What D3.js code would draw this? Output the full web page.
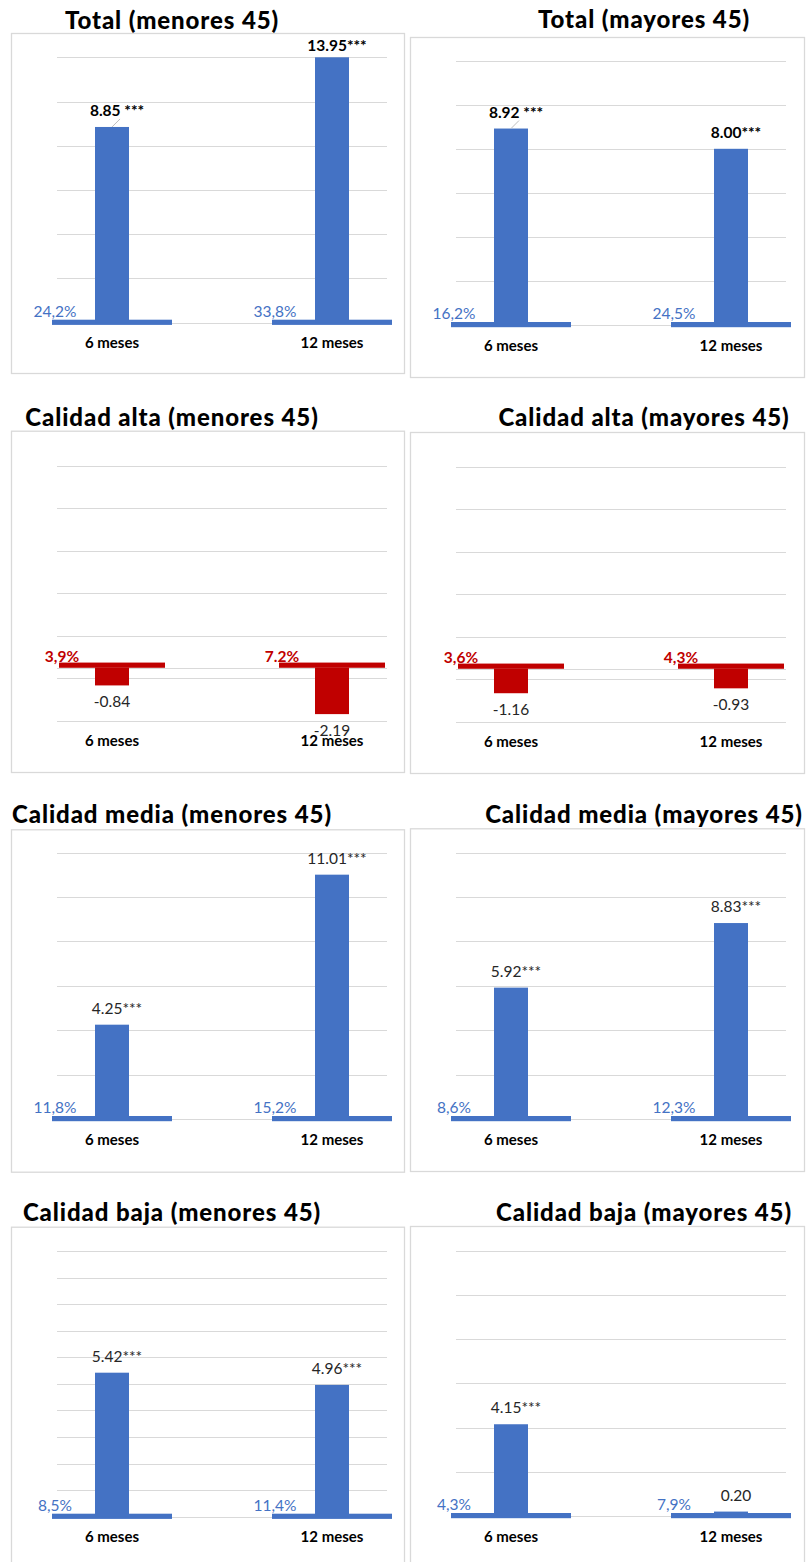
<!DOCTYPE html>
<html>
<head>
<meta charset="utf-8">
<script src="https://cdn.jsdelivr.net/npm/d3@7"></script>
<style>
  html, body { margin: 0; padding: 0; background: #ffffff; }
  svg { display: block; }
</style>
</head>
<body>
<script>
// Categories shared by every panel
const categories = ["6 meses", "12 meses"];

const panelTitles = [
  "Total (menores 45)", "Total (mayores 45)",
  "Calidad alta (menores 45)", "Calidad alta (mayores 45)",
  "Calidad media (menores 45)", "Calidad media (mayores 45)",
  "Calidad baja (menores 45)", "Calidad baja (mayores 45)"
];

// Estimated effects (bars) per panel
const totalMenores = [8.85, 13.95];
const totalMayores = [8.92, 8.00];
const altaMenores  = [-0.84, -2.19];
const altaMayores  = [-1.16, -0.93];
const mediaMenores = [4.25, 11.01];
const mediaMayores = [5.92, 8.83];
const bajaMenores  = [5.42, 4.96];
const bajaMayores  = [4.15, 0.20];

// Significance marks appended to each value label
const starsTotalMenores = [" ***", "***"];
const starsTotalMayores = [" ***", "***"];
const starsAltaMenores  = ["", ""];
const starsAltaMayores  = ["", ""];
const starsMediaMenores = ["***", "***"];
const starsMediaMayores = ["***", "***"];
const starsBajaMenores  = ["***", "***"];
const starsBajaMayores  = ["***", ""];

// Baseline rates shown beside the base strip
const baseTotalMenores = ["24,2%", "33,8%"];
const baseTotalMayores = ["16,2%", "24,5%"];
const baseAltaMenores  = ["3,9%", "7.2%"];
const baseAltaMayores  = ["3,6%", "4,3%"];
const baseMediaMenores = ["11,8%", "15,2%"];
const baseMediaMayores = ["8,6%", "12,3%"];
const baseBajaMenores  = ["8,5%", "11,4%"];
const baseBajaMayores  = ["4,3%", "7,9%"];

// Value-axis ranges and gridline steps
const axisStandard = [0, 12];
const axisAlta = [-2.5, 9.5];
const axisBajaMenores = [0, 10];

const panels = [
  { title: panelTitles[0], values: totalMenores, stars: starsTotalMenores, base: baseTotalMenores, axis: axisStandard, step: 2, neg: false, boldValues: true },
  { title: panelTitles[1], values: totalMayores, stars: starsTotalMayores, base: baseTotalMayores, axis: axisStandard, step: 2, neg: false, boldValues: true },
  { title: panelTitles[2], values: altaMenores,  stars: starsAltaMenores,  base: baseAltaMenores,  axis: axisAlta, step: 2, neg: true },
  { title: panelTitles[3], values: altaMayores,  stars: starsAltaMayores,  base: baseAltaMayores,  axis: axisAlta, step: 2, neg: true },
  { title: panelTitles[4], values: mediaMenores, stars: starsMediaMenores, base: baseMediaMenores, axis: axisStandard, step: 2, neg: false },
  { title: panelTitles[5], values: mediaMayores, stars: starsMediaMayores, base: baseMediaMayores, axis: axisStandard, step: 2, neg: false },
  { title: panelTitles[6], values: bajaMenores,  stars: starsBajaMenores,  base: baseBajaMenores,  axis: axisBajaMenores, step: 1, neg: false },
  { title: panelTitles[7], values: bajaMayores,  stars: starsBajaMayores,  base: baseBajaMayores,  axis: axisStandard, step: 2, neg: false }
];

// Page layout
const W = 807, H = 1562;
const BLUE = "#4472C4", RED = "#C00000", GRID = "#d9d9d9";
const cols = [
  { boxX: 11, boxW: 393, titleX: 172 },
  { boxX: 410, boxW: 394, titleX: 644 }
];
const rows = [
  { titleY: [28.5, 28], box: [[33, 373], [37, 377]], plot: [[57.3, 322.7], [60.7, 325]] },
  { titleY: [426, 426], box: [[430.7, 772], [432, 773]], plot: [[465.7, 720.7], [466.7, 721.7]] },
  { titleY: [822.7, 822.7], box: [[829.3, 1171.7], [828.3, 1171]], plot: [[852.7, 1119], [852.7, 1119]] },
  { titleY: [1220.7, 1220.7], box: [[1226.7, 1575], [1226, 1575]], plot: [[1251, 1516.7], [1250.7, 1516]] }
];

const svg = d3.select("body").append("svg")
  .attr("width", W).attr("height", H)
  .attr("viewBox", `0 0 ${W} ${H}`);

svg.append("rect").attr("width", W).attr("height", H).attr("fill", "#ffffff");

const labelFont = "Lato, 'Open Sans', sans-serif";
const titleFont = "Lato, 'DejaVu Sans', sans-serif";

panels.forEach((p, i) => {
  const r = Math.floor(i / 2), c = i % 2;
  const col = cols[c], row = rows[r];
  const [boxTop, boxBottom] = row.box[c];
  const [plotTop, plotBottom] = row.plot[c];
  const g = svg.append("g");
  const color = p.neg ? RED : BLUE;

  // Chart frame
  g.append("rect")
    .attr("x", col.boxX + 0.5).attr("y", boxTop + 0.5)
    .attr("width", col.boxW).attr("height", boxBottom - boxTop)
    .attr("fill", "none").attr("stroke", GRID).attr("stroke-width", 1.3);

  // Title
  g.append("text")
    .attr("x", col.titleX).attr("y", row.titleY[c])
    .attr("text-anchor", "middle")
    .attr("font-family", titleFont).attr("font-weight", 900)
    .attr("font-size", 24).attr("letter-spacing", 0.9)
    .attr("fill", "#000")
    .text(p.title);

  const x = d3.scalePoint().domain(categories).range([col.boxX + 101, col.boxX + 321]);
  const y = d3.scaleLinear().domain(p.axis).range([plotBottom, plotTop]).clamp(true);
  const gx0 = col.boxX + 46, gx1 = col.boxX + 376;

  // Horizontal gridlines
  const ticks = d3.range(p.axis[0], p.axis[1] + 1e-9, p.step);
  if (!ticks.includes(0)) ticks.push(0);
  g.selectAll("line.grid").data(ticks).join("line")
    .attr("class", "grid")
    .attr("x1", gx0).attr("x2", gx1)
    .attr("y1", d => Math.round(y(d)) + 0.5).attr("y2", d => Math.round(y(d)) + 0.5)
    .attr("stroke", GRID).attr("stroke-width", 1.2);

  const rowsData = categories.map((cat, j) => ({
    cat, v: p.values[j], stars: p.stars[j], base: p.base[j], j
  }));

  // Base-rate strips
  const stripW = p.neg ? 106 : 120;
  g.selectAll("rect.strip").data(rowsData).join("rect")
    .attr("class", "strip")
    .attr("x", d => x(d.cat) - stripW / 2)
    .attr("width", stripW)
    .attr("y", y(0) - (p.neg ? 5 : 3))
    .attr("height", 5.2)
    .attr("fill", color);

  // Effect bars
  g.selectAll("rect.bar").data(rowsData).join("rect")
    .attr("class", "bar")
    .attr("x", d => x(d.cat) - 17)
    .attr("width", 34)
    .attr("y", d => Math.min(y(d.v), y(0)))
    .attr("height", d => Math.abs(y(d.v) - y(0)))
    .attr("fill", color);

  // Base-rate labels
  g.selectAll("text.base").data(rowsData).join("text")
    .attr("class", "base")
    .attr("x", d => x(d.cat) - stripW / 2 + 3)
    .attr("y", y(0) - 6)
    .attr("text-anchor", "middle")
    .attr("font-family", labelFont)
    .attr("font-weight", p.neg ? 700 : 400)
    .attr("font-size", 15.5)
    .attr("fill", color)
    .text(d => d.base);

  // Value labels
  g.selectAll("text.val").data(rowsData).join("text")
    .attr("class", "val")
    .attr("x", d => x(d.cat) + (d.v < 0 ? 0 : 5))
    .attr("y", d => {
      if (d.v < 0) return y(d.v) + 22;
      const clipped = d.v > p.axis[1];
      return y(d.v) - (clipped ? 6 : 11);
    })
    .attr("text-anchor", "middle")
    .attr("font-family", labelFont)
    .attr("font-weight", p.boldValues ? 700 : 400)
    .attr("font-size", 15.5)
    .attr("fill", p.boldValues ? "#000" : "#262626")
    .text(d => d.v.toFixed(2) + d.stars);

  // Leader lines for the 6-month labels of the total panels
  if (p.boldValues) {
    const d = rowsData[0];
    g.append("line")
      .attr("x1", x(d.cat)).attr("y1", y(d.v))
      .attr("x2", x(d.cat) + 8).attr("y2", y(d.v) - 8)
      .attr("stroke", "#bfbfbf").attr("stroke-width", 1);
  }

  // Category labels
  g.selectAll("text.cat").data(rowsData).join("text")
    .attr("class", "cat")
    .attr("x", d => x(d.cat))
    .attr("y", plotBottom + 25.5)
    .attr("text-anchor", "middle")
    .attr("font-family", labelFont)
    .attr("font-weight", 700)
    .attr("font-size", 15)
    .attr("fill", "#000")
    .text(d => d.cat);
});
</script>
</body>
</html>
